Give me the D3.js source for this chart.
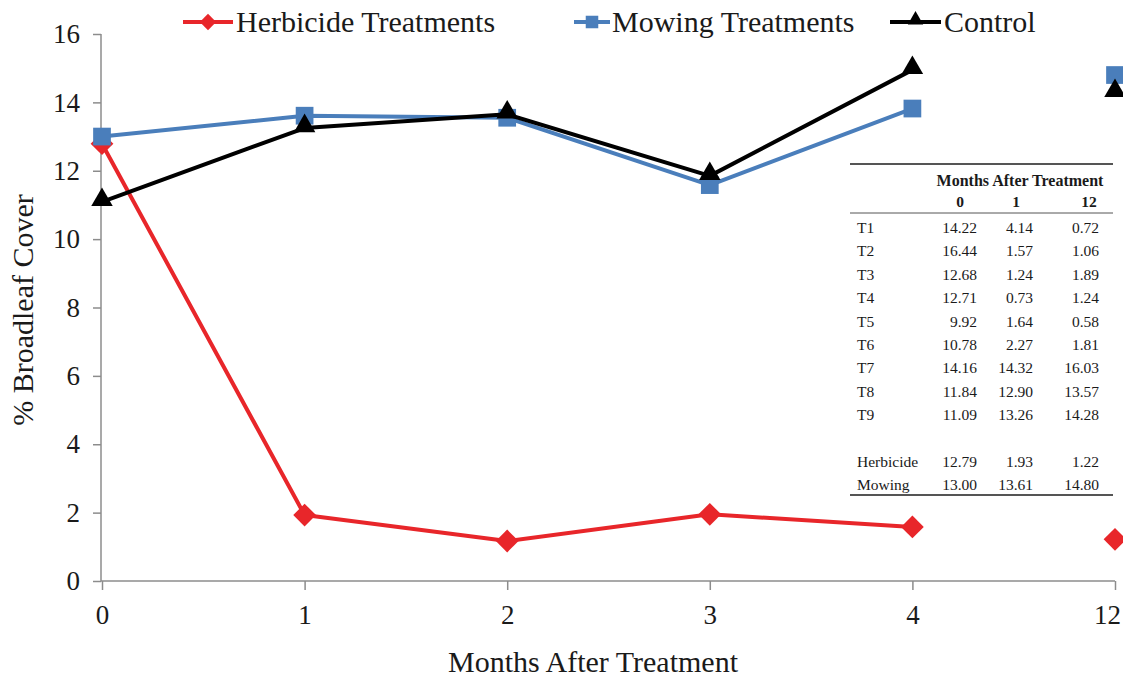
<!DOCTYPE html>
<html><head><meta charset="utf-8">
<script src="https://cdn.jsdelivr.net/npm/d3@7"></script>
<style>body{margin:0;background:#fff}svg{display:block}svg text{font-family:"Liberation Serif",serif}</style>
</head><body>
<svg id="c" width="1123" height="679"></svg>
<script>
const months = ["0","1","2","3","4","12"];
const herbicide = [12.79, 1.93, 1.17, 1.95, 1.58, 1.22];
const mowing = [13.00, 13.61, 13.55, 11.58, 13.82, 14.80];
const control = [11.09, 13.25, 13.65, 11.85, 14.95, 14.28];
const connectedCount = 5; // months 0..4 are joined, 12 stands alone
const yTicks = [0,2,4,6,8,10,12,14,16];
const seriesNames = ["Herbicide Treatments","Mowing Treatments","Control"];

const tableHeader = "Months After Treatment";
const tableCols = ["0","1","12"];
const tableRows = ["T1","T2","T3","T4","T5","T6","T7","T8","T9","","Herbicide","Mowing"];
const tableCol0 = ["14.22","16.44","12.68","12.71","9.92","10.78","14.16","11.84","11.09","","12.79","13.00"];
const tableCol1 = ["4.14","1.57","1.24","0.73","1.64","2.27","14.32","12.90","13.26","","1.93","13.61"];
const tableCol12 = ["0.72","1.06","1.89","1.24","0.58","1.81","16.03","13.57","14.28","","1.22","14.80"];

const svg = d3.select("#c");
const font = "Liberation Serif";
const x = d3.scalePoint().domain(months).range([102, 1115]);
const y = d3.scaleLinear().domain([0,16]).range([581, 34]);
const axisColor = "#8c8c8c";

// axes
const gy = svg.append("g").attr("transform","translate(101,0)")
  .call(d3.axisLeft(y).tickValues(yTicks).tickSize(8).tickPadding(13).tickFormat(d3.format("d")));
const gx = svg.append("g").attr("transform","translate(0,581)")
  .call(d3.axisBottom(x).tickSize(9).tickPadding(15));
[gx, gy].forEach(g => {
  g.attr("font-family", font);
  g.select(".domain").attr("stroke", axisColor).attr("stroke-width",1.5);
  g.selectAll(".tick line").attr("stroke", axisColor).attr("stroke-width",1.5);
  g.selectAll("text").attr("font-family", font).attr("font-size", 27).attr("fill","#1a1a1a");
});
gy.select(".domain").attr("d","M0,34V581");
gx.select(".domain").attr("d","M101,0H1115");
gx.selectAll(".tick text").filter(d => d === "12").attr("dx", -8);

// axis titles
svg.append("text").attr("x", 593).attr("y", 672).attr("text-anchor","middle")
  .attr("font-family", font).attr("font-size", 30).attr("fill","#1a1a1a").text("Months After Treatment");
svg.append("text").attr("transform","translate(33,310) rotate(-90)").attr("text-anchor","middle")
  .attr("font-family", font).attr("font-size", 30).attr("fill","#1a1a1a").text("% Broadleaf Cover");

// series
const series = [
  {name: seriesNames[0], vals: herbicide, color: "#e8262a", shape: "diamond"},
  {name: seriesNames[1], vals: mowing, color: "#4a7ebb", shape: "square"},
  {name: seriesNames[2], vals: control, color: "#000000", shape: "triangle"}
];
const symType = {diamond: d3.symbolDiamond2, square: d3.symbolSquare2, triangle: d3.symbolTriangle2};
const symSize = {diamond: 330, square: 400, triangle: 330};
const line = d3.line().x(d => x(d.m)).y(d => y(d.v));
series.forEach(s => {
  const pts = months.map((m,i) => ({m, v: s.vals[i], i}));
  svg.append("path").datum(pts.filter(p => p.i < connectedCount))
    .attr("d", line).attr("fill","none").attr("stroke", s.color).attr("stroke-width", 4)
    .attr("stroke-linejoin","round");
  svg.append("g").selectAll("path").data(pts).join("path")
    .attr("transform", d => `translate(${x(d.m)},${y(d.v) + (s.shape==="triangle"?-2:0)})`)
    .attr("d", d3.symbol().type(symType[s.shape]).size(symSize[s.shape])()).attr("fill", s.color);
});

// legend
const legendPos = [{x0:183, x1:233, tx:236}, {x0:574, x1:610, tx:612}, {x0:890, x1:941, tx:944}];
series.forEach((s,i) => {
  const p = legendPos[i];
  const g = svg.append("g");
  g.append("line").attr("x1", p.x0).attr("x2", p.x1).attr("y1", 22).attr("y2", 22)
    .attr("stroke", s.color).attr("stroke-width", 4);
  g.append("path").attr("transform", `translate(${(p.x0+p.x1)/2},${s.shape==="triangle"?20:22})`)
    .attr("d", d3.symbol().type(symType[s.shape]).size(s.shape==="square"?200:170)())
    .attr("fill", s.color);
  g.append("text").attr("x", p.tx).attr("y", 32).attr("font-family", font).attr("font-size", 30)
    .attr("fill","#1a1a1a").text(s.name);
});

// inset table
const tg = svg.append("g").attr("font-family", font).attr("font-size", 15.5).attr("fill","#1a1a1a");
tg.append("rect").attr("x", 845).attr("y", 160).attr("width", 272).attr("height", 338).attr("fill","#fff");
tg.append("line").attr("x1", 850).attr("x2", 1113).attr("y1", 164).attr("y2", 164).attr("stroke","#555").attr("stroke-width",2);
tg.append("line").attr("x1", 850).attr("x2", 1113).attr("y1", 213).attr("y2", 213).attr("stroke","#555").attr("stroke-width",1);
tg.append("line").attr("x1", 850).attr("x2", 1113).attr("y1", 495).attr("y2", 495).attr("stroke","#555").attr("stroke-width",2);
tg.append("text").attr("x", 1020).attr("y", 186).attr("text-anchor","middle").attr("font-weight","bold")
  .attr("font-size", 16).text(tableHeader);
const colX = [977, 1033, 1099];
tableCols.forEach((c,i) => {
  tg.append("text").attr("x", i===2 ? colX[i]-10 : colX[i]-17).attr("y", 207).attr("text-anchor","middle")
    .attr("font-weight","bold").text(c);
});
const rowY = i => 233 + i*23.4;
tableRows.forEach((r,i) => {
  if (!r) return;
  tg.append("text").attr("x", 857).attr("y", rowY(i)).text(r);
  [tableCol0, tableCol1, tableCol12].forEach((col,j) => {
    tg.append("text").attr("x", colX[j]).attr("y", rowY(i)).attr("text-anchor","end").text(col[i]);
  });
});
</script>
</body></html>
